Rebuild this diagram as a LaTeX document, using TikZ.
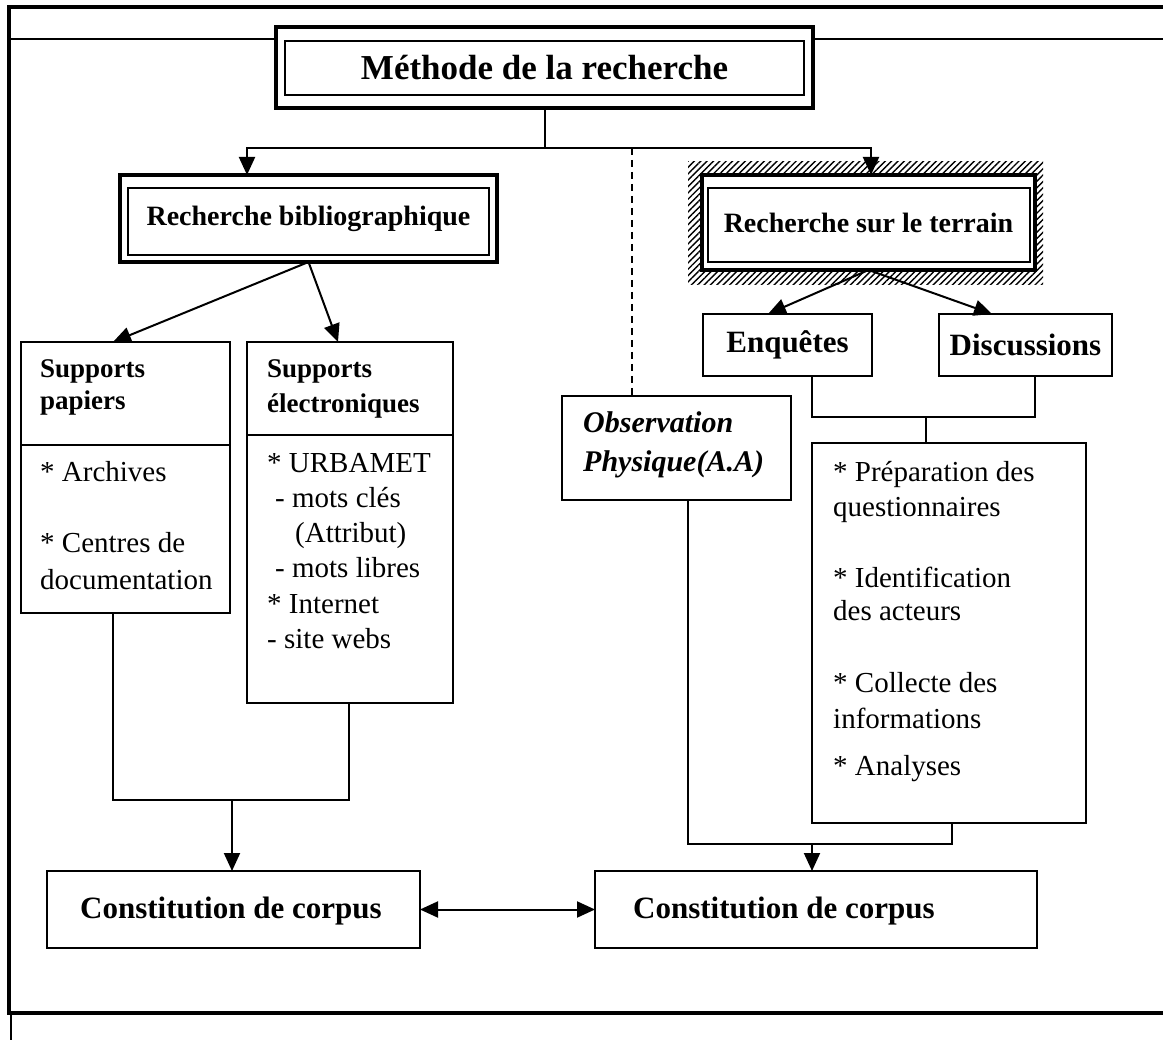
\documentclass[tikz,border=0pt]{standalone}
\usepackage{fontspec}
\setmainfont{Liberation Serif}
\usetikzlibrary{arrows.meta,patterns.meta}

\tikzset{
  box/.style={draw, line width=2pt, fill=white, inner sep=0pt, outer sep=0pt},
  thickbox/.style={box, line width=4.5pt},
  innerframe/.style={draw, line width=2pt},
  conn/.style={line width=2pt},
  tri/.style={conn, -{Triangle[length=18pt,width=16pt]}},
  bitri/.style={conn, {Triangle[length=18pt,width=16pt]}-{Triangle[length=18pt,width=16pt]}},
  dashline/.style={line width=1.6pt, dash pattern=on 7pt off 5pt},
  body/.style={font=\fontsize{29}{34}\selectfont, inner sep=0pt, anchor=base west},
  head/.style={font=\bfseries\fontsize{27}{32}\selectfont, inner sep=0pt, anchor=base west},
  obsfont/.style={font=\bfseries\itshape\fontsize{30}{35}\selectfont, inner sep=0pt, anchor=base west},
  corpusfont/.style={font=\bfseries\fontsize{31}{36}\selectfont, inner sep=0pt, anchor=base west},
  frameline/.style={line width=4pt},
}

\begin{document}
\begin{tikzpicture}[x=1pt,y=-1pt]
\useasboundingbox (0,0) rectangle (1163,1040);

% page frame
\draw[frameline] (1163,7) -- (9,7) -- (9,1013) -- (1163,1013);
\draw[conn] (11,39) -- (276,39);
\draw[conn] (813,39) -- (1163,39);
\draw[conn] (11,1013) -- (11,1040);

% title
\node[thickbox, minimum width=537pt, minimum height=81pt,
      font=\bfseries\fontsize{35}{40}\selectfont] (title) at (544.5,67.5) {Méthode de la recherche};
\draw[innerframe] (285,41) rectangle (804,95);

% bibliographic branch
\node[thickbox, line width=4pt, minimum width=377pt, minimum height=87pt,
      font=\bfseries\fontsize{28}{33}\selectfont] (biblio) at (308.5,218.5) {\raisebox{-3pt}{Recherche bibliographique}};
\draw[innerframe] (128,188) rectangle (489,255);

% field branch with hatched border
\fill[pattern={Lines[angle=45,distance=4.5pt,line width=1.4pt]}] (688,162) rectangle (1043,285);
\node[thickbox, line width=4pt, minimum width=333pt, minimum height=95pt,
      font=\bfseries\fontsize{28}{33}\selectfont] (terrain) at (868.5,222.5) {Recherche sur le terrain};
\draw[innerframe] (708,188) rectangle (1030,262);

% supports papiers
\node[box, minimum width=209pt, minimum height=271pt] (pap) at (125.5,477.5) {};
\draw[conn] (pap.west |- 0,445) -- (pap.east |- 0,445);
\foreach \yy/\txt [count=\i] in {378/Supports, 410/papiers}
  \node[head, name=paph\i] at (40,\yy) {\txt};
\foreach \yy/\txt [count=\i] in {482/{* Archives}, 553/{* Centres de}, 590/documentation}
  \node[body, name=papt\i] at (40,\yy) {\txt};

% supports electroniques
\node[box, minimum width=206pt, minimum height=361pt] (elec) at (350,522.5) {};
\draw[conn] (elec.west |- 0,435) -- (elec.east |- 0,435);
\foreach \yy/\txt [count=\i] in {378/Supports, 413/électroniques}
  \node[head, name=elech\i] at (267,\yy) {\txt};
\foreach \xx/\yy/\txt [count=\i] in {267/473/{* URBAMET}, 275/508/{- mots clés}, 295/543/{(Attribut)},
    275/578/{- mots libres}, 267/613/{* Internet}, 267/648/{- site webs}}
  \node[body, name=elect\i] at (\xx,\yy) {\txt};

% observation
\node[box, minimum width=229pt, minimum height=104pt] (obs) at (676.5,448) {};
\node[obsfont] (obs1) at (583,433) {Observation};
\node[obsfont] (obs2) at (583,472) {Physique(A.A)};

% surveys and discussions
\node[box, minimum width=169pt, minimum height=62pt,
      font=\bfseries\fontsize{31}{36}\selectfont] (enq) at (787.5,345) {Enquêtes};
\node[box, minimum width=173pt, minimum height=62pt,
      font=\bfseries\fontsize{31}{36}\selectfont] (disc) at (1025.5,345) {Discussions};

% field work steps
\node[box, minimum width=274pt, minimum height=380pt] (quest) at (949,633) {};
\foreach \yy/\txt [count=\i] in {482/{* Préparation des}, 517/questionnaires, 587/{* Identification},
    620/{des acteurs}, 692/{* Collecte des}, 728/informations, 775/{* Analyses}}
  \node[body, name=questt\i] at (833,\yy) {\txt};

% corpus boxes
\node[box, minimum width=373pt, minimum height=77pt] (corpusA) at (233.5,909.5) {};
\node[corpusfont] (corpusAt) at (80,918) {Constitution de corpus};
\node[box, minimum width=442pt, minimum height=77pt] (corpusB) at (816,909.5) {};
\node[corpusfont] (corpusBt) at (633,918) {Constitution de corpus};

% connectors from the title
\coordinate (j1) at (544.5,148);
\draw[conn] (title.south) -- (j1);
\draw[tri] (j1) -| ([xshift=127pt]biblio.north west);
\draw[tri] (j1) -| ([xshift=169pt]terrain.north west);
\draw[dashline] ([xshift=70pt]obs.north west |- j1) -- ([xshift=70pt]obs.north west);

% bibliographic split
\draw[tri] (biblio.south) -- ([xshift=92pt]pap.north west);
\draw[tri] (biblio.south) -- ([xshift=91pt]elec.north west);

% field split
\draw[tri] (terrain.south) -- ([xshift=65pt]enq.north west);
\draw[tri] (terrain.south) -- ([xshift=53pt]disc.north west);
\coordinate (j3) at (926,417);
\draw[conn] ([xshift=109pt]enq.south west) -- ([xshift=109pt]enq.south west |- j3)
  -- ([xshift=96pt]disc.south west |- j3) -- ([xshift=96pt]disc.south west);
\draw[conn] (j3) -- (quest.north -| j3);

% left join
\coordinate (j4) at (232,800);
\draw[conn] ([xshift=92pt]pap.south west) -- ([xshift=92pt]pap.south west |- j4)
  -- ([xshift=102pt]elec.south west |- j4) -- ([xshift=102pt]elec.south west);
\draw[tri] (j4) -- (corpusA.north -| j4);

% right join
\coordinate (j5) at (812,844);
\draw[conn] ([xshift=126pt]obs.south west) -- ([xshift=126pt]obs.south west |- j5)
  -- ([xshift=140pt]quest.south west |- j5) -- ([xshift=140pt]quest.south west);
\draw[tri] (j5) -- (corpusB.north -| j5);

% link between corpora
\draw[bitri] (corpusA.east) -- (corpusB.west);
\end{tikzpicture}
\end{document}
